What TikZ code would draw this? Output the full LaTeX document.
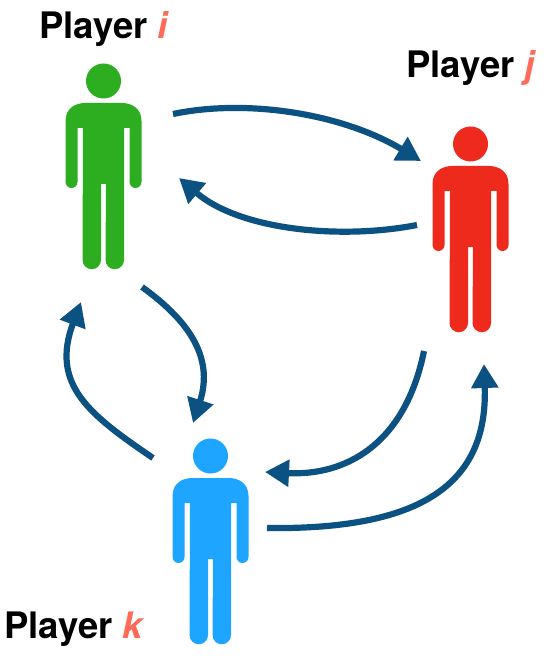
\documentclass[tikz,border=0pt]{standalone}
\usepackage{fontspec}
\usepackage{xcolor}
\usepackage{tikz}
\usetikzlibrary{arrows.meta}
\setmainfont{TeX Gyre Heros}
\definecolor{greenMan}{HTML}{2CAE20}
\definecolor{redMan}{HTML}{EE2A1D}
\definecolor{blueMan}{HTML}{1EA5FF}
\definecolor{linkBlue}{HTML}{0B5182}
\definecolor{indexRed}{HTML}{FF6A59}
\newcommand{\playerlabel}[1]{\textbf{Player} \textcolor{indexRed}{\textbf{\textit{#1}}}}
\tikzset{
  person/.pic={
    \fill[#1] (0,0) circle (17.5);
    \fill[#1] (-38,40) .. controls (-38,27) and (-28,22) .. (-18,22) -- (18,22)
      .. controls (28,22) and (38,27) .. (38,40) -- (38,101)
      arc[start angle=0, end angle=180, radius=6] -- (26,47) -- (20.5,47)
      -- (20.5,179) arc[start angle=0, end angle=180, radius=9.25]
      -- (2.5,103) -- (-2.5,103) -- (-2.5,179)
      arc[start angle=0, end angle=180, radius=9.25] -- (-20.5,47) -- (-26,47)
      -- (-26,101) arc[start angle=0, end angle=180, radius=6] -- cycle;
  },
  playername/.style={anchor=base west, inner sep=0pt, font=\fontsize{36.5}{36.5}\selectfont},
  linkarrow/.style={draw=linkBlue, line width=6.2, -{Triangle[length=24, width=26, fill=linkBlue]}}
}
\begin{document}
\begin{tikzpicture}[x=1pt, y=-1pt]
  \useasboundingbox (0,0) rectangle (548,660);
  \pic at (103.5,81) {person=greenMan};
  \pic at (470.5,144) {person=redMan};
  \pic at (210.5,456) {person=blueMan};

  \node[playername] (labelI) at (39,39) {\playerlabel{i}};
  \node[playername] (labelJ) at (406,78) {\playerlabel{j}};
  \node[playername] (labelK) at (4,638) {\playerlabel{k}};

  % ends of the arrows
  \coordinate (iToJ) at (173,114);
  \coordinate (jFromI) at (421,161);
  \coordinate (jToI) at (417,225);
  \coordinate (iFromJ) at (179,178);
  \coordinate (iToK) at (142,287);
  \coordinate (kFromI) at (193,423);
  \coordinate (kToI) at (153,458);
  \coordinate (iFromK) at (81,302);
  \coordinate (jToK) at (424,351);
  \coordinate (kFromJ) at (265,472);
  \coordinate (kToJ) at (267,528);
  \coordinate (jFromK) at (484,364);

  \draw[linkarrow] (iToJ) .. controls (250,98) and (345,115) .. (jFromI);
  \draw[linkarrow] (jToI) .. controls (340,240) and (240,230) .. (iFromJ);
  \draw[linkarrow] (iToK) .. controls (185,318) and (215,355) .. (kFromI);
  \draw[linkarrow] (kToI) .. controls (90,415) and (50,385) .. (iFromK);
  \draw[linkarrow] (jToK) .. controls (405,445) and (345,476) .. (kFromJ);
  \draw[linkarrow] (kToJ) .. controls (420,530) and (488,485) .. (jFromK);
\end{tikzpicture}
\end{document}
